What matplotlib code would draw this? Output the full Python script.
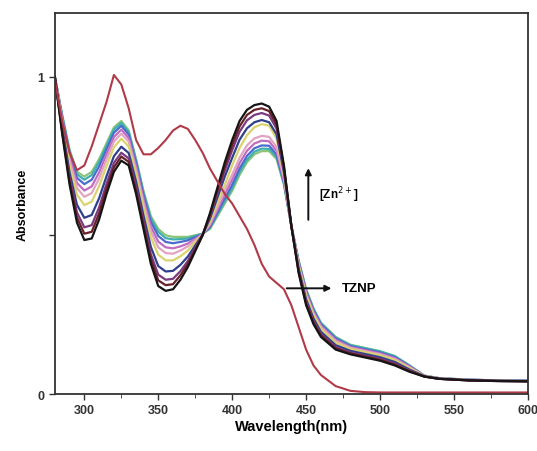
import matplotlib
matplotlib.use('Agg')
import matplotlib.pyplot as plt
from matplotlib.ticker import MultipleLocator

plt.rcParams['font.family'] = ['Liberation Sans', 'DejaVu Sans']

# wavelength grid (nm)
wl = [280, 285, 290, 295, 300, 305, 310, 315, 320, 325, 330, 335, 340, 345,
      350, 355, 360, 365, 370, 375, 380, 385, 390, 395, 400, 405, 410, 415,
      420, 425, 430, 435, 440, 445, 450, 455, 460, 470, 480, 490, 500, 510,
      520, 530, 540, 560, 580, 600]

# free TZNP
tznp = [0.99, 0.86, 0.76, 0.705, 0.72, 0.78, 0.85, 0.92, 1.005, 0.975, 0.90, 0.80,
        0.755, 0.755, 0.775, 0.80, 0.83, 0.845, 0.835, 0.80, 0.76, 0.71, 0.67, 0.63,
        0.60, 0.56, 0.52, 0.47, 0.41, 0.37, 0.35, 0.33, 0.28, 0.21, 0.14, 0.09,
        0.06, 0.025, 0.01, 0.006, 0.005, 0.005, 0.005, 0.005, 0.005, 0.005, 0.005, 0.005]

# titration with Zn2+ (low -> high)
zn01 = [1.00, 0.88, 0.77, 0.70, 0.685, 0.70, 0.74, 0.79, 0.84, 0.86, 0.83, 0.74,
        0.64, 0.56, 0.52, 0.50, 0.495, 0.495, 0.495, 0.50, 0.505, 0.52, 0.56, 0.60,
        0.64, 0.69, 0.73, 0.755, 0.765, 0.765, 0.74, 0.66, 0.53, 0.42, 0.33, 0.27,
        0.225, 0.18, 0.155, 0.145, 0.135, 0.12, 0.09, 0.058, 0.05, 0.045, 0.043, 0.042]
zn02 = [1.00, 0.877, 0.765, 0.692, 0.675, 0.690, 0.731, 0.782, 0.833, 0.854, 0.825, 0.735,
        0.634, 0.553, 0.511, 0.491, 0.487, 0.488, 0.490, 0.498, 0.505, 0.523, 0.565, 0.607,
        0.648, 0.699, 0.738, 0.763, 0.773, 0.772, 0.746, 0.663, 0.53, 0.418, 0.328, 0.268,
        0.223, 0.178, 0.154, 0.144, 0.134, 0.119, 0.089, 0.058, 0.05, 0.045, 0.043, 0.042]
zn03 = [1.00, 0.873, 0.757, 0.681, 0.661, 0.675, 0.717, 0.771, 0.823, 0.845, 0.817, 0.727,
        0.626, 0.542, 0.498, 0.479, 0.475, 0.479, 0.484, 0.494, 0.504, 0.526, 0.571, 0.616,
        0.659, 0.710, 0.750, 0.774, 0.783, 0.782, 0.754, 0.667, 0.53, 0.415, 0.324, 0.264,
        0.22, 0.175, 0.151, 0.141, 0.131, 0.116, 0.088, 0.057, 0.05, 0.045, 0.043, 0.042]
zn04 = [1.00, 0.867, 0.746, 0.665, 0.641, 0.654, 0.698, 0.755, 0.809, 0.833, 0.806, 0.716,
        0.614, 0.527, 0.480, 0.462, 0.459, 0.465, 0.474, 0.489, 0.504, 0.531, 0.580, 0.629,
        0.675, 0.727, 0.766, 0.789, 0.798, 0.796, 0.766, 0.673, 0.53, 0.411, 0.319, 0.259,
        0.215, 0.171, 0.148, 0.138, 0.128, 0.113, 0.086, 0.057, 0.049, 0.045, 0.043, 0.041]
zn05 = [1.00, 0.861, 0.735, 0.649, 0.621, 0.633, 0.679, 0.739, 0.795, 0.820, 0.795, 0.705,
        0.602, 0.512, 0.462, 0.444, 0.442, 0.452, 0.465, 0.484, 0.503, 0.536, 0.589, 0.642,
        0.691, 0.744, 0.783, 0.805, 0.813, 0.810, 0.778, 0.679, 0.53, 0.407, 0.314, 0.254,
        0.211, 0.167, 0.145, 0.135, 0.125, 0.110, 0.084, 0.057, 0.049, 0.044, 0.042, 0.041]
zn06 = [1.00, 0.853, 0.720, 0.628, 0.595, 0.606, 0.655, 0.718, 0.777, 0.804, 0.780, 0.690,
        0.586, 0.493, 0.439, 0.421, 0.421, 0.434, 0.452, 0.478, 0.503, 0.543, 0.601, 0.659,
        0.72, 0.775, 0.815, 0.84, 0.85, 0.845, 0.805, 0.69, 0.53, 0.402, 0.308, 0.248,
        0.205, 0.162, 0.142, 0.132, 0.122, 0.107, 0.081, 0.057, 0.049, 0.044, 0.042, 0.041]
zn07 = [1.00, 0.841, 0.698, 0.596, 0.555, 0.564, 0.617, 0.686, 0.749, 0.779, 0.759, 0.669,
        0.562, 0.463, 0.403, 0.386, 0.388, 0.407, 0.433, 0.468, 0.502, 0.553, 0.619, 0.685,
        0.744, 0.801, 0.837, 0.856, 0.863, 0.856, 0.818, 0.699, 0.53, 0.394, 0.298, 0.238,
        0.196, 0.154, 0.136, 0.126, 0.116, 0.101, 0.077, 0.056, 0.048, 0.044, 0.042, 0.041]
zn08 = [1.00, 0.832, 0.682, 0.572, 0.525, 0.532, 0.588, 0.662, 0.728, 0.760, 0.742, 0.652,
        0.544, 0.440, 0.376, 0.360, 0.363, 0.387, 0.419, 0.460, 0.501, 0.560, 0.632, 0.704,
        0.768, 0.826, 0.862, 0.879, 0.885, 0.877, 0.836, 0.708, 0.53, 0.388, 0.290, 0.230,
        0.189, 0.148, 0.131, 0.121, 0.111, 0.096, 0.074, 0.055, 0.048, 0.043, 0.041, 0.040]
zn09 = [1.00, 0.826, 0.671, 0.556, 0.505, 0.511, 0.569, 0.646, 0.714, 0.748, 0.731, 0.641,
        0.532, 0.425, 0.358, 0.343, 0.346, 0.374, 0.410, 0.455, 0.501, 0.565, 0.641, 0.717,
        0.784, 0.843, 0.879, 0.895, 0.900, 0.891, 0.848, 0.714, 0.53, 0.384, 0.285, 0.225,
        0.185, 0.144, 0.128, 0.118, 0.108, 0.093, 0.072, 0.055, 0.048, 0.043, 0.041, 0.040]
zn10 = [1.00, 0.82, 0.66, 0.54, 0.485, 0.49, 0.55, 0.63, 0.70, 0.735, 0.72, 0.63,
        0.52, 0.41, 0.34, 0.325, 0.33, 0.36, 0.40, 0.45, 0.50, 0.57, 0.65, 0.73,
        0.80, 0.86, 0.895, 0.91, 0.915, 0.905, 0.86, 0.72, 0.53, 0.38, 0.28, 0.22,
        0.18, 0.14, 0.125, 0.115, 0.105, 0.09, 0.07, 0.055, 0.048, 0.043, 0.041, 0.04]

series = [zn01, zn02, zn03, zn04, zn05, zn06, zn07, zn08, zn09, zn10]
colors = ['#8cc47a', '#3fb0b0', '#4a6ccc', '#c06cc0', '#e3a3c3', '#d9d36e',
          '#2f3f8a', '#7a3a80', '#6a2028', '#151515']

fig = plt.figure(figsize=(5.37, 4.52), dpi=100)
ax = fig.add_axes([0.102, 0.126, 0.881, 0.843])

for y, c in zip(series, colors):
    ax.plot(wl, y, color=c, lw=1.6)
ax.plot(wl, tznp, color='#b03a48', lw=1.5)

ax.set_xlim(280, 600)
ax.set_ylim(0, 1.2)
ax.xaxis.set_major_locator(MultipleLocator(50))
ax.xaxis.set_minor_locator(MultipleLocator(25))
ax.set_yticks([0, 0.5, 1])
ax.set_yticklabels(['0', '', '1'])
ax.tick_params(direction='out', labelsize=9, width=1, length=4, colors='#333333')
ax.tick_params(which='minor', direction='out', length=3, color='#333333')
for lab in ax.get_xticklabels() + ax.get_yticklabels():
    lab.set_fontweight('bold')
for s in ax.spines.values():
    s.set_color('#333333')
    s.set_linewidth(1.3)

ax.set_xlabel('Wavelength(nm)', fontsize=10.5, fontweight='bold', labelpad=2)
ax.set_ylabel('Absorbance', fontsize=9, fontweight='bold', labelpad=6)

# annotations
ax.annotate('', xy=(451.5, 0.72), xytext=(451.5, 0.54),
            arrowprops=dict(arrowstyle='-|>', color='#111111', lw=1.4, mutation_scale=9))
ax.text(459, 0.63, r'[Zn$^{2+}$]', fontsize=8.5, fontweight='bold', va='center')
ax.annotate('', xy=(469, 0.333), xytext=(435, 0.333),
            arrowprops=dict(arrowstyle='-|>', color='#111111', lw=1.4, mutation_scale=9))
ax.text(474, 0.333, 'TZNP', fontsize=9.5, fontweight='bold', va='center')

fig.savefig('out.png', dpi=100)
